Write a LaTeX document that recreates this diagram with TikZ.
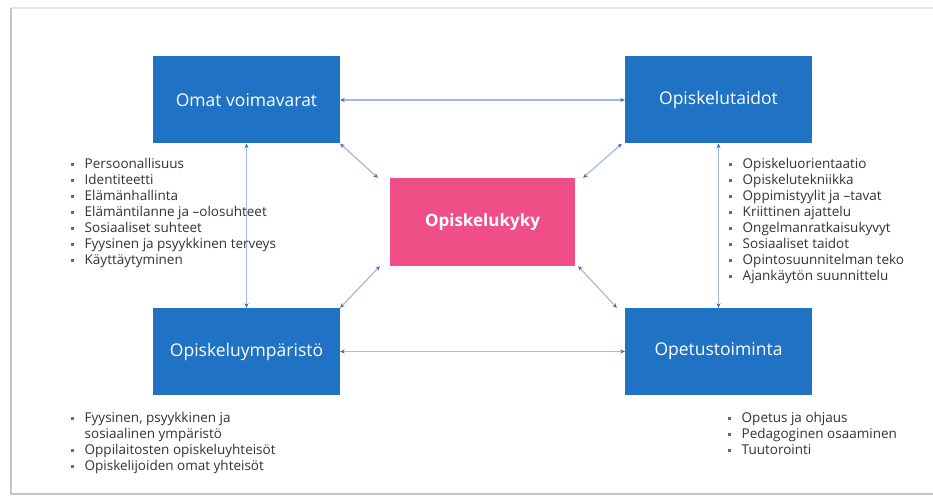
\documentclass[tikz,border=0pt]{standalone}
\usepackage{fontspec}
\setmainfont{Open Sans}
\usetikzlibrary{arrows.meta}
\definecolor{boxblue}{HTML}{1F72C4}
\definecolor{boxpink}{HTML}{EF4F86}
\definecolor{linkblue}{HTML}{A3B9DE}
\definecolor{tipblue}{HTML}{3B66C4}
\definecolor{listgray}{HTML}{333333}
\definecolor{bulgray}{HTML}{6A6A6A}
\newcommand{\bul}{\makebox[14pt][l]{\raisebox{2.2pt}{\textcolor{bulgray}{\rule{3pt}{3pt}}}}}

\begin{document}
\begin{tikzpicture}[x=1pt,y=-1pt,
  box/.style={rectangle, fill=boxblue, text=white, minimum width=187pt, minimum height=87pt, inner sep=0pt, font=\fontsize{17.5}{20}\selectfont},
  hub/.style={box, fill=boxpink, minimum width=185pt, minimum height=88pt, font=\fontsize{17}{20}\selectfont\bfseries},
  link/.style={draw=linkblue, line width=1.2pt, {Stealth[length=4.5pt,width=4pt,color=tipblue]}-{Stealth[length=4.5pt,width=4pt,color=tipblue]}},
  list/.style={anchor=north west, align=left, inner sep=0pt, text=listgray, font=\fontsize{13.5}{16}\selectfont}]
\fill[white] (0,0) rectangle (933,497);
\useasboundingbox (0,0) rectangle (933,497);
% frame
\draw[gray!20, line width=2pt] (11,8) -- (933,8);
\draw[gray!45, line width=2.5pt] (11,8) -- (11,494) -- (933,494);

\node[box](omat) at (246.5,100){Omat voimavarat};
\node[box](taidot) at (718.5,100){Opiskelutaidot};
\node[hub](kyky) at (482.5,222){Opiskelukyky};
\node[box](ymp) at (246.5,351.5){Opiskeluympäristö};
\node[box](opetus) at (718.5,351.5){Opetustoiminta};

\foreach \from/\to in {omat/taidot,ymp/opetus,omat/ymp,taidot/opetus}
 \draw[link] (\from) -- (\to);
\draw[link] (omat.south east) -- ([xshift=-12pt]kyky.north west);
\draw[link] ([xshift=8pt]kyky.north east) -- ([xshift=-3pt]taidot.south west);
\draw[link] ([xshift=-10pt]kyky.south west) -- (ymp.north east);
\draw[link] ([xshift=3pt]kyky.south east) -- ([xshift=-8pt]opetus.north west);

\node[list](omatlist) at (70.5,158){\bul Persoonallisuus\\ \bul Identiteetti\\ \bul Elämänhallinta\\
 \bul Elämäntilanne ja –olosuhteet\\ \bul Sosiaaliset suhteet\\ \bul Fyysinen ja psyykkinen terveys\\ \bul Käyttäytyminen};
\node[list](taidotlist) at (728.5,158){\bul Opiskeluorientaatio\\ \bul Opiskelutekniikka\\ \bul Oppimistyylit ja –tavat\\
 \bul Kriittinen ajattelu\\ \bul Ongelmanratkaisukyvyt\\ \bul Sosiaaliset taidot\\ \bul Opintosuunnitelman teko\\ \bul Ajankäytön suunnittelu};
\node[list](ymplist) at (70.5,412){\bul Fyysinen, psyykkinen ja\\ \hspace*{14pt}sosiaalinen ympäristö\\
 \bul Oppilaitosten opiskeluyhteisöt\\ \bul Opiskelijoiden omat yhteisöt};
\node[list](opetuslist) at (727.5,412){\bul Opetus ja ohjaus\\ \bul Pedagoginen osaaminen\\ \bul Tuutorointi};
\end{tikzpicture}
\end{document}
